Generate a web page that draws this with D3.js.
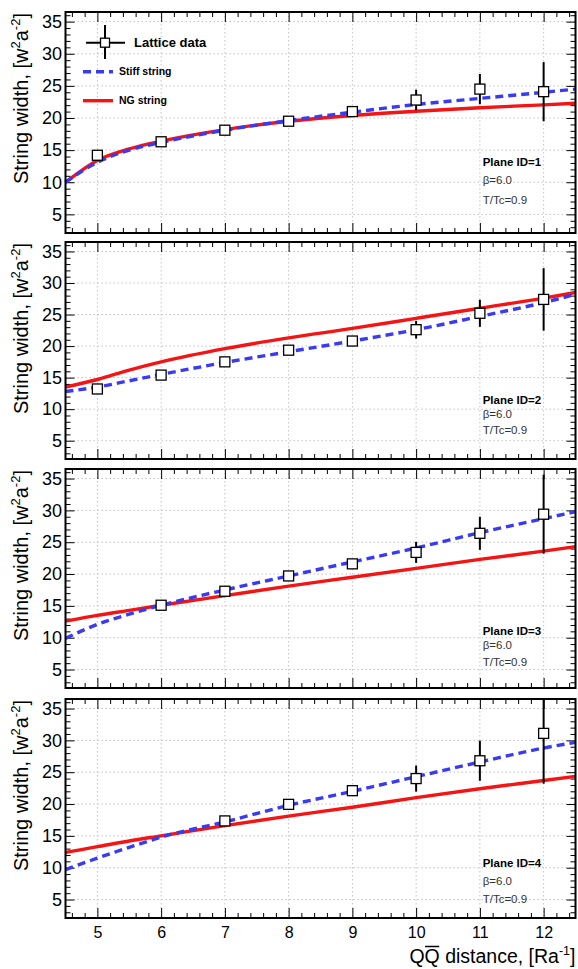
<!DOCTYPE html>
<html>
<head>
<meta charset="utf-8">
<script src="https://cdn.jsdelivr.net/npm/d3@7"></script>
<style>
  body { margin: 0; background: #fff; }
  svg { display: block; font-family: "Liberation Sans", Arial, Helvetica, sans-serif; }
</style>
</head>
<body>
<div id="chart"></div>
<script>
const curveR = [4.5, 5, 5.5, 6, 7, 8, 9, 10, 11, 12, 12.5];

// stiff string (blue dashed) and NG string (red) per plane
const stiff1 = [10.0, 13.1, 15.0, 16.2, 18.1, 19.6, 20.9, 22.1, 23.05, 24.0, 24.5];
const ng1    = [10.0, 13.4, 15.2, 16.4, 18.2, 19.5, 20.4, 21.05, 21.6, 22.05, 22.3];
const stiff2 = [12.8, 13.5, 14.5, 15.5, 17.4, 19.1, 20.8, 22.6, 24.7, 26.9, 28.2];
const ng2    = [13.5, 14.7, 16.2, 17.5, 19.6, 21.3, 22.8, 24.4, 26.0, 27.6, 28.5];
const stiff3 = [9.9, 12.1, 13.7, 15.1, 17.5, 19.7, 21.9, 24.1, 26.5, 28.7, 29.8];
const ng3    = [12.6, 13.5, 14.3, 15.1, 16.6, 18.1, 19.5, 20.9, 22.3, 23.6, 24.3];
const stiff4 = [9.7, 11.5, 13.2, 14.8, 17.2, 19.8, 22.0, 24.3, 26.6, 28.8, 29.7];
const ng4    = [12.4, 13.3, 14.2, 15.0, 16.6, 18.1, 19.5, 21.0, 22.4, 23.7, 24.35];

// lattice data: distance, width, error
const latR1 = [5, 6, 7, 8, 9, 10, 11, 12];
const lat1  = [14.2, 16.3, 18.1, 19.5, 21.0, 22.8, 24.5, 24.1];
const err1  = [0.3, 0.3, 0.3, 0.4, 0.6, 1.6, 2.35, 4.6];
const latR2 = [5, 6, 7, 8, 9, 10, 11, 12];
const lat2  = [13.2, 15.4, 17.5, 19.35, 20.8, 22.6, 25.2, 27.4];
const err2  = [0.3, 0.3, 0.4, 0.4, 0.6, 1.4, 2.15, 4.95];
const latR3 = [6, 7, 8, 9, 10, 11, 12];
const lat3  = [15.1, 17.3, 19.7, 21.6, 23.4, 26.4, 29.4];
const err3  = [0.3, 0.4, 0.5, 0.7, 1.65, 2.6, 6.2];
const latR4 = [7, 8, 9, 10, 11, 12];
const lat4  = [17.35, 19.95, 22.1, 24.0, 26.8, 31.1];
const err4  = [0.4, 0.5, 0.7, 2.05, 3.15, 7.9];

const planeIds = [1, 2, 3, 4];
const xTicks = [5, 6, 7, 8, 9, 10, 11, 12];
const yTicks = [5, 10, 15, 20, 25, 30, 35];

const panels = [
  { id: planeIds[0], stiff: stiff1, ng: ng1, r: latR1, w: lat1, e: err1 },
  { id: planeIds[1], stiff: stiff2, ng: ng2, r: latR2, w: lat2, e: err2 },
  { id: planeIds[2], stiff: stiff3, ng: ng3, r: latR3, w: lat3, e: err3 },
  { id: planeIds[3], stiff: stiff4, ng: ng4, r: latR4, w: lat4, e: err4 }
];

// layout
const W = 578, H = 969;
const left = 65.5, right = 575.5;
const tops = [12, 242, 469, 699];
const bottoms = [233, 459, 688, 918];
const textY = [[161.7, 180, 200], [400, 414.3, 430], [630.7, 645.3, 661.7], [863.3, 881, 899]];

const blue = "#3a3af2", red = "#f41414";

const svg = d3.select("#chart").append("svg")
  .attr("width", W).attr("height", H);

const x = d3.scaleLinear().domain([4.5, 12.5]).range([left, right]);
const xMinor = d3.range(4.6, 12.45, 0.2).filter(v => Math.abs(v - Math.round(v)) > 0.01);
const yMinor = d3.range(3, 37, 1).filter(v => v % 5 !== 0);

panels.forEach((p, i) => {
  const top = tops[i], bottom = bottoms[i];
  const y = d3.scaleLinear().domain([2.1, 36.5]).range([bottom, top]).clamp(true);
  const g = svg.append("g");

  // grid
  g.append("g").selectAll("line").data(xTicks).join("line")
    .attr("x1", d => x(d)).attr("x2", d => x(d))
    .attr("y1", top).attr("y2", bottom)
    .attr("stroke", "#c4c4c4").attr("stroke-width", 1).attr("stroke-dasharray", "1.5,2.5");
  g.append("g").selectAll("line").data(yTicks).join("line")
    .attr("x1", left).attr("x2", right)
    .attr("y1", d => y(d)).attr("y2", d => y(d))
    .attr("stroke", "#c4c4c4").attr("stroke-width", 1).attr("stroke-dasharray", "1.5,2.5");

  // ticks on all four sides
  const addAxis = (axis, tx, ty) => {
    const a = g.append("g").attr("transform", `translate(${tx},${ty})`).call(axis);
    a.select(".domain").remove();
    a.selectAll(".tick line").attr("stroke", "#000").attr("stroke-width", 1);
    return a;
  };
  addAxis(d3.axisBottom(x).tickValues(xMinor).tickSize(-5).tickFormat(""), 0, bottom);
  addAxis(d3.axisTop(x).tickValues(xMinor).tickSize(-5).tickFormat(""), 0, top);
  addAxis(d3.axisTop(x).tickValues(xTicks).tickSize(-10).tickFormat(""), 0, top);
  const xb = addAxis(d3.axisBottom(x).tickValues(xTicks).tickSizeInner(-10).tickSizeOuter(0)
    .tickPadding(8.6).tickFormat(i === 3 ? d3.format("d") : ""), 0, bottom);
  xb.selectAll("text").attr("fill", "#000").style("font-size", "16px")
    .style("font-family", "'Liberation Sans', Arial, sans-serif");

  addAxis(d3.axisLeft(y).tickValues(yMinor).tickSize(-5).tickFormat(""), left, 0);
  addAxis(d3.axisRight(y).tickValues(yMinor).tickSize(-5).tickFormat(""), right, 0);
  addAxis(d3.axisRight(y).tickValues(yTicks).tickSize(-9).tickFormat(""), right, 0);
  const yl = addAxis(d3.axisLeft(y).tickValues(yTicks).tickSizeInner(-9).tickSizeOuter(0)
    .tickPadding(3.5).tickFormat(d3.format("d")), left, 0);
  yl.selectAll("text").attr("fill", "#000").style("font-size", "18px")
    .style("font-family", "'Liberation Sans', Arial, sans-serif");

  // curves
  const line = d3.line().x(d => x(d[0])).y(d => y(d[1])).curve(d3.curveMonotoneX);
  g.append("path").datum(d3.zip(curveR, p.ng)).attr("d", line)
    .attr("fill", "none").attr("stroke", red).attr("stroke-width", 3.4);
  g.append("path").datum(d3.zip(curveR, p.stiff)).attr("d", line)
    .attr("fill", "none").attr("stroke", blue).attr("stroke-width", 3.4)
    .attr("stroke-dasharray", "8,5");

  // lattice points
  const pts = p.r.map((r, k) => ({ r: r, w: p.w[k], e: p.e[k] }));
  g.append("g").selectAll("line").data(pts).join("line")
    .attr("x1", d => x(d.r)).attr("x2", d => x(d.r))
    .attr("y1", d => y(d.w + d.e)).attr("y2", d => y(d.w - d.e))
    .attr("stroke", "#000").attr("stroke-width", 2);
  g.append("g").selectAll("rect").data(pts).join("rect")
    .attr("x", d => x(d.r) - 5).attr("y", d => y(d.w) - 5)
    .attr("width", 10).attr("height", 10)
    .attr("fill", "#fff").attr("stroke", "#000").attr("stroke-width", 1.3);

  // frame
  g.append("rect").attr("x", left).attr("y", top)
    .attr("width", right - left).attr("height", bottom - top)
    .attr("fill", "none").attr("stroke", "#000").attr("stroke-width", 2);

  // y title
  const t = g.append("text")
    .attr("transform", `translate(28,${top + 1}) rotate(-90)`)
    .attr("text-anchor", "end").style("font-size", "20px").attr("fill", "#000");
  t.append("tspan").text("String width, [w");
  t.append("tspan").attr("dy", -8).style("font-size", "13px").text("2");
  t.append("tspan").attr("dy", 8).text("a");
  t.append("tspan").attr("dy", -8).style("font-size", "13px").text("-2");
  t.append("tspan").attr("dy", 8).text("]");

  // annotation
  const ty = textY[i];
  g.append("text").attr("x", 482.7).attr("y", ty[0]).attr("dy", "0.35em")
    .style("font-size", "11.5px").style("font-weight", "bold").text("Plane ID=" + p.id);
  g.append("text").attr("x", 482.7).attr("y", ty[1]).attr("dy", "0.35em")
    .style("font-size", "11.5px").attr("fill", "#333").text("\u03b2=6.0");
  g.append("text").attr("x", 482.7).attr("y", ty[2]).attr("dy", "0.35em")
    .style("font-size", "11.5px").attr("fill", "#333").text("T/Tc=0.9");
});

// legend (first panel)
const lg = svg.append("g");
lg.append("line").attr("x1", 86).attr("x2", 125).attr("y1", 42.7).attr("y2", 42.7)
  .attr("stroke", "#000").attr("stroke-width", 2);
lg.append("line").attr("x1", 105).attr("x2", 105).attr("y1", 25).attr("y2", 59)
  .attr("stroke", "#000").attr("stroke-width", 2);
lg.append("rect").attr("x", 100.5).attr("y", 38.2).attr("width", 9).attr("height", 9)
  .attr("fill", "#fff").attr("stroke", "#000").attr("stroke-width", 1.3);
lg.append("text").attr("x", 134).attr("y", 42.7).attr("dy", "0.35em")
  .style("font-size", "13px").style("font-weight", "bold").text("Lattice data");
lg.append("line").attr("x1", 83).attr("x2", 113).attr("y1", 71.7).attr("y2", 71.7)
  .attr("stroke", blue).attr("stroke-width", 3.4).attr("stroke-dasharray", "8,5");
lg.append("text").attr("x", 119).attr("y", 71.7).attr("dy", "0.35em")
  .style("font-size", "10.5px").style("font-weight", "bold").text("Stiff string");
lg.append("line").attr("x1", 83).attr("x2", 113).attr("y1", 100.7).attr("y2", 100.7)
  .attr("stroke", red).attr("stroke-width", 3.4);
lg.append("text").attr("x", 119).attr("y", 100.7).attr("dy", "0.35em")
  .style("font-size", "10.5px").style("font-weight", "bold").text("NG string");

// x title
const xt = svg.append("text").attr("x", right).attr("y", 963)
  .attr("text-anchor", "end").style("font-size", "19.5px").attr("fill", "#000");
xt.append("tspan").text("QQ distance, [Ra");
xt.append("tspan").attr("dy", -8).style("font-size", "12.5px").text("-1");
xt.append("tspan").attr("dy", 8).text("]");
// overline on the second Q
const qb = xt.node().getExtentOfChar(1);
svg.append("line").attr("x1", qb.x + 0.5).attr("x2", qb.x + qb.width - 0.5)
  .attr("y1", qb.y + 1.5).attr("y2", qb.y + 1.5)
  .attr("stroke", "#000").attr("stroke-width", 1.5);
</script>
</body>
</html>
